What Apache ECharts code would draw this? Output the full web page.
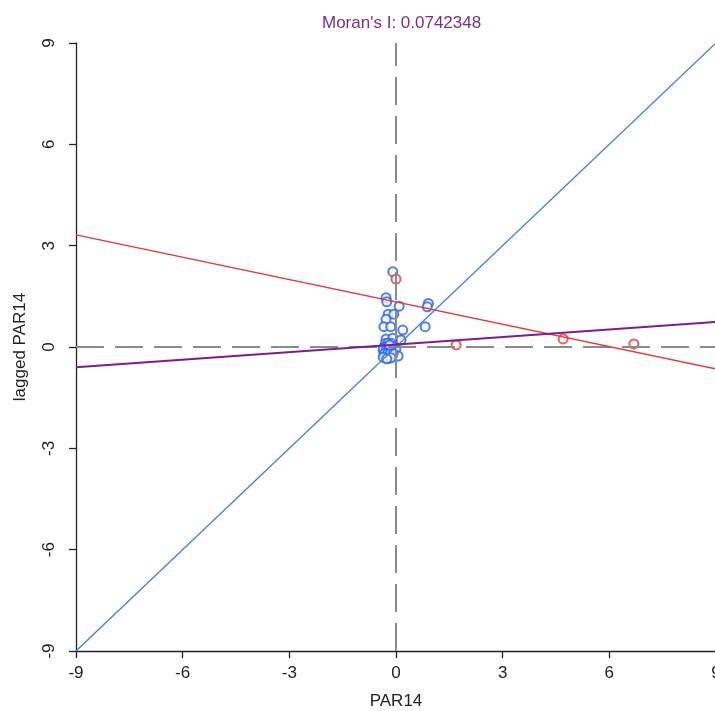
<!DOCTYPE html>
<html>
<head>
<meta charset="utf-8">
<script src="https://cdn.jsdelivr.net/npm/echarts@6/dist/echarts.min.js"></script>
<style>html,body{margin:0;padding:0;background:#fff}#c{width:715px;height:711px}</style>
</head>
<body>
<div id="c"></div>
<script>
// ---- data ----
const titleText = "Moran's I: 0.0742348";
const xName = 'PAR14';
const yName = 'lagged PAR14';
const axisMin = -9, axisMax = 9, axisStep = 3;

// ordinary observations (blue circles): [PAR14, lagged PAR14]
const bluePoints = [
  [-0.09, 2.23], [-0.28, 1.46], [-0.26, 1.34], [0.09, 1.21], [0.91, 1.29], [0.88, 1.19],
  [-0.22, 0.97], [-0.06, 0.97], [-0.28, 0.82], [-0.34, 0.60], [-0.15, 0.60], [0.19, 0.50],
  [0.82, 0.60], [-0.28, 0.24], [-0.09, 0.26], [0.14, 0.21],
  [-0.30, 0.10], [-0.22, 0.12], [-0.12, 0.10], [-0.32, 0.00], [-0.25, -0.02], [-0.18, 0.00],
  [-0.08, 0.02], [-0.35, -0.12], [-0.28, -0.15], [-0.20, -0.12], [-0.12, -0.15], [-0.05, -0.10],
  [-0.33, -0.25], [-0.25, -0.28], [-0.17, -0.25], [-0.10, -0.28], [-0.30, -0.32], [-0.20, -0.33],
  [0.00, -0.05], [0.06, -0.27],
  [-0.36, -0.05], [-0.27, -0.06], [-0.21, -0.05], [-0.14, -0.04], [-0.32, -0.19], [-0.24, -0.20],
  [-0.16, -0.19], [-0.08, -0.20], [-0.36, -0.30], [-0.14, -0.32], [-0.26, -0.35], [-0.18, 0.06]
];
// influential observations (red circles)
const redPoints = [[0.00, 2.01], [1.69, 0.06], [4.70, 0.24], [6.69, 0.09]];

// reference lines (endpoints)
const identityLine = [[-9, -9], [9, 9]];
const redFitLine = [[-9, 3.32], [9, -0.65]];
const moranLine = [[-9, -0.60], [9, 0.74]];
const zeroVLine = [[0, -9], [0, 9]];
const zeroHLine = [[-9, 0], [9, 0]];

const chart = echarts.init(document.getElementById('c'));
const font = 'Liberation Sans, Arial, sans-serif';
const axisCommon = {
  type: 'value', min: axisMin, max: axisMax, interval: axisStep,
  axisLine: { show: true, onZero: false, lineStyle: { color: '#222', width: 1.3 } },
  axisTick: { show: true, inside: false, length: 7, lineStyle: { color: '#222', width: 1.3 } },
  splitLine: { show: false },
  nameLocation: 'middle',
  nameTextStyle: { color: '#222', fontSize: 17, fontFamily: font }
};
chart.setOption({
  animation: false,
  backgroundColor: '#fff',
  title: {
    text: titleText, left: 317, top: 10,
    textStyle: { color: '#7b2d8b', fontSize: 17, fontWeight: 'normal', fontFamily: font }
  },
  grid: { left: 76, top: 43, width: 640, height: 608, containLabel: false, outerBoundsMode: 'none' },
  xAxis: Object.assign({}, axisCommon, {
    name: xName, nameGap: 42,
    axisLabel: { color: '#222', fontSize: 17, fontFamily: font, margin: 14, showMaxLabel: true, showMinLabel: true }
  }),
  yAxis: Object.assign({}, axisCommon, {
    name: yName, nameGap: 47,
    axisLabel: { color: '#222', fontSize: 17, fontFamily: font, margin: 18, rotate: 90, showMaxLabel: true, showMinLabel: true }
  }),
  series: [
    { type: 'line', data: zeroVLine, showSymbol: false, silent: true,
      lineStyle: { color: '#8a8a8a', width: 2, type: [28, 11] } },
    { type: 'line', data: zeroHLine, showSymbol: false, silent: true,
      lineStyle: { color: '#8a8a8a', width: 2, type: [28, 11] } },
    { type: 'line', data: identityLine, showSymbol: false, silent: true,
      lineStyle: { color: '#3c7df2', width: 1.3 } },
    { type: 'scatter', data: bluePoints, symbol: 'emptyCircle', symbolSize: 9,
      itemStyle: { color: '#1f5eff', borderColor: '#1f5eff', borderWidth: 1.4 } },
    { type: 'scatter', data: redPoints, symbol: 'emptyCircle', symbolSize: 9,
      itemStyle: { color: '#e0383c', borderColor: '#e0383c', borderWidth: 1.4 } },
    { type: 'line', data: redFitLine, showSymbol: false, silent: true,
      lineStyle: { color: '#e23a3a', width: 1.4 } },
    { type: 'line', data: moranLine, showSymbol: false, silent: true,
      lineStyle: { color: '#7a1f88', width: 2 } }
  ]
});
</script>
</body>
</html>
